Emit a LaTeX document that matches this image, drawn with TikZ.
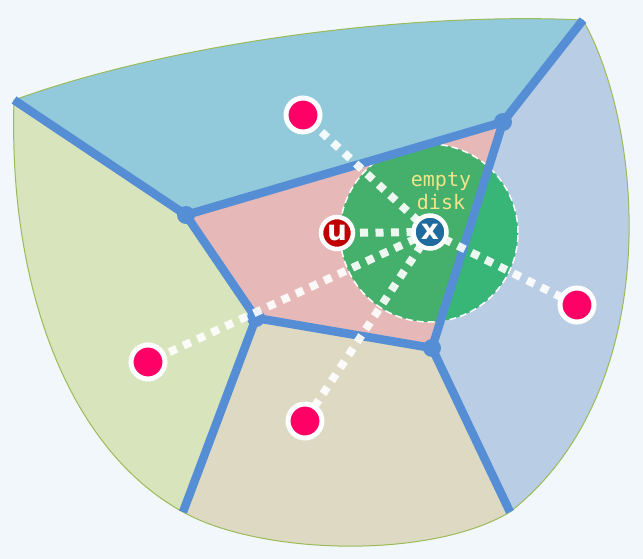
\documentclass[tikz,border=0pt]{standalone}
\usepackage{fontspec}
\newfontfamily\monofont{DejaVu Sans Mono}
\newfontfamily\labelfont{DejaVu Sans}
\usetikzlibrary{shadows}
\definecolor{bgc}{HTML}{F2F7FC}
\definecolor{topc}{HTML}{92CADB}
\definecolor{rightc}{HTML}{B9CDE5}
\definecolor{leftc}{HTML}{D8E4BC}
\definecolor{bottomc}{HTML}{DDD9C3}
\definecolor{centerc}{HTML}{E6B9B8}
\definecolor{edgec}{HTML}{558ED5}
\definecolor{outlinec}{HTML}{9BBB59}
\definecolor{diskc}{HTML}{00AD4B}
\definecolor{sitec}{HTML}{FF0066}
\definecolor{uredc}{HTML}{C00000}
\definecolor{xbluec}{HTML}{1F6B9E}
\definecolor{textyel}{HTML}{F2E48A}
\begin{document}
\begin{tikzpicture}[x=1pt,y=-1pt,
  vedge/.style={line width=8.5pt, draw=edgec, line join=round},
  vdot/.style={circle, fill=edgec, minimum size=18pt, inner sep=0pt},
  sitestyle/.style={circle, fill=sitec, draw=white, line width=5pt, minimum size=34pt, inner sep=0pt,
    drop shadow={shadow xshift=2pt, shadow yshift=-2pt, opacity=0.25}},
  conn/.style={draw=white, line width=8pt, dash pattern=on 8pt off 7.5pt, opacity=0.9},
  special/.style={circle, draw=white, line width=4.5pt, inner sep=0pt, text=white,
    drop shadow={shadow xshift=1.5pt, shadow yshift=-1.5pt, opacity=0.25}},
  disklabel/.style={anchor=base, text=textyel, inner sep=0pt, font=\monofont\fontsize{20}{22}\selectfont},
]
\useasboundingbox[fill=bgc] (0,0) rectangle (643,559);
% corners of the outer shape and Voronoi vertices
\coordinate (tl) at (14,100);
\coordinate (tr) at (583,20);
\coordinate (bl) at (183,512);
\coordinate (br) at (510,512);
\coordinate (v1) at (186,215);
\coordinate (v2) at (503,122);
\coordinate (v3) at (256,318);
\coordinate (v4) at (432,348);
\coordinate (tlx) at (-158,-15);
\coordinate (trx) at (663,-82);
\coordinate (blx) at (110,706);
\coordinate (brx) at (588,676);
% regions
\begin{scope}
  \clip (14,100) .. controls (180,40) and (420,12) .. (583,20)
    .. controls (645,130) and (665,390) .. (510,512)
    .. controls (430,560) and (260,555) .. (183,512)
    .. controls (70,450) and (8,290) .. (14,100) -- cycle;
  \fill[topc] (tlx) -- (v1) -- (v2) -- (trx) -- (-158,-82) -- cycle;
  \fill[rightc] (v2) -- (trx) -- (800,-82) -- (800,676) -- (brx) -- (v4) -- cycle;
  \fill[bottomc] (v3) -- (v4) -- (brx) -- (588,800) -- (110,800) -- (blx) -- cycle;
  \fill[leftc] (tlx) -- (v1) -- (v3) -- (blx) -- (-200,706) -- (-200,-15) -- cycle;
  \fill[centerc] (v1) -- (v2) -- (v4) -- (v3) -- cycle;
\end{scope}
\draw[outlinec, line width=1pt] (14,100) .. controls (180,40) and (420,12) .. (583,20)
    .. controls (645,130) and (665,390) .. (510,512)
    .. controls (430,560) and (260,555) .. (183,512)
    .. controls (70,450) and (8,290) .. (14,100) -- cycle;
% empty disk
\node[circle, minimum size=178pt, inner sep=0pt, fill=diskc, fill opacity=0.7,
  draw=white, line width=1.5pt, dash pattern=on 7pt off 4pt] (disk) at (429,233) {};
% Voronoi edges
\draw[vedge] (tl) -- (v1) -- (v2) -- (tr);
\draw[vedge] (v1) -- (v3) -- (v4) -- (v2);
\draw[vedge] (v3) -- (bl);
\draw[vedge] (v4) -- (br);
\node[vdot] (d1) at (v1) {};
\node[vdot] (d2) at (v2) {};
\node[vdot] (d3) at (v3) {};
\node[vdot] (d4) at (v4) {};
% site positions
\coordinate (cs1) at (303,115);
\coordinate (cs2) at (148,362);
\coordinate (cs3) at (305,421);
\coordinate (cs4) at (577,305);
\coordinate (cu) at (337,233);
\coordinate (cx) at (430,232);
% connectors
\draw[conn] (cx) -- (cs1);
\draw[conn] (cx) -- (cs2);
\draw[conn] (cx) -- (cs3);
\draw[conn] (cx) -- (cs4);
\draw[conn] (cx) -- (cu);
% sites
\node[sitestyle] (s1) at (cs1) {};
\node[sitestyle] (s2) at (cs2) {};
\node[sitestyle] (s3) at (cs3) {};
\node[sitestyle] (s4) at (cs4) {};
\node[special, fill=uredc, minimum size=32pt, font=\labelfont\bfseries\fontsize{28}{28}\selectfont] (u) at (cu) {u};
\node[special, fill=xbluec, minimum size=33pt, font=\labelfont\bfseries\fontsize{28}{28}\selectfont] (x) at (cx) {x};
% label
\node[disklabel] (lab1) at (441,186.7) {empty};
\node[disklabel] (lab2) at (441,209.3) {disk};
\end{tikzpicture}
\end{document}
